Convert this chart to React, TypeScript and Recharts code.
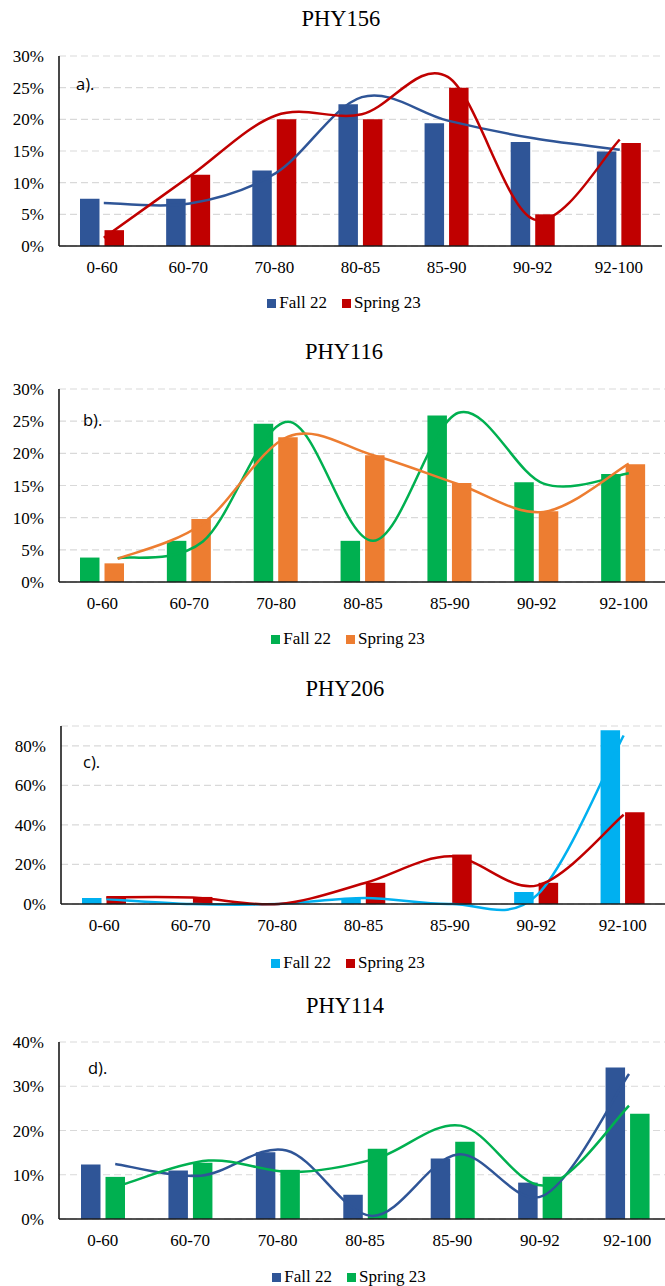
import { ComposedChart, Bar, Line, XAxis, YAxis, CartesianGrid } from 'recharts';

// grade bands shared by all four courses
const categories = ['0-60', '60-70', '70-80', '80-85', '85-90', '90-92', '92-100'];
const seriesNames = ['Fall 22', 'Spring 23'];

// PHY156 (% of students)
const phy156Fall = [7.46, 7.46, 11.94, 22.39, 19.4, 16.42, 14.93];
const phy156Spring = [2.5, 11.25, 20, 20, 25, 5, 16.25];
const phy156FallTrend = [6.8, 6.7, 11.5, 23.5, 19.8, 17.0, 15.2];
const phy156SpringTrend = [1.3, 11.0, 20.6, 20.8, 26.7, 4.2, 16.8];

// PHY116
const phy116Fall = [3.8, 6.4, 24.6, 6.4, 25.9, 15.5, 16.8];
const phy116Spring = [2.9, 9.8, 22.5, 19.7, 15.4, 11.0, 18.3];
const phy116FallTrend = [3.7, 6.3, 24.9, 6.4, 26.3, 15.3, 16.9];
const phy116SpringTrend = [3.6, 9.1, 22.6, 19.7, 15.2, 10.9, 18.4];

// PHY206
const phy206Fall = [3.03, 0, 0, 3.03, 0, 6.06, 87.88];
const phy206Spring = [3.57, 3.57, 0, 10.71, 25, 10.71, 46.43];
const phy206FallTrend = [2.5, 0, 0, 3.0, 0, 4.7, 85.2];
const phy206SpringTrend = [3.4, 3.3, 0, 10.6, 24.1, 9.4, 45.1];

// PHY114
const phy114Fall = [12.33, 10.96, 15.07, 5.48, 13.7, 8.22, 34.25];
const phy114Spring = [9.52, 12.7, 11.11, 15.87, 17.46, 9.52, 23.81];
const phy114FallTrend = [12.45, 9.8, 15.5, 0.7, 14.6, 5.3, 32.75];
const phy114SpringTrend = [7.9, 13.2, 10.6, 13.7, 21.1, 7.6, 25.6];

const ticks30 = [0, 5, 10, 15, 20, 25, 30];
const ticks90 = [0, 20, 40, 60, 80];
const ticks40 = [0, 10, 20, 30, 40];

const SERIF = "'Liberation Serif', 'Times New Roman', serif";
const SANS = "'Open Sans', 'Noto Sans', sans-serif";
const BORDER = '#1a1a1a';
const TOP_PAD = 14;

// Excel-like smoothed line (Catmull-Rom through the points)
const excelSmooth = (context: any) => {
  let pts: number[][] = [];
  return {
    areaStart() {},
    areaEnd() {},
    lineStart() {
      pts = [];
    },
    point(x: number, y: number) {
      pts.push([x, y]);
    },
    lineEnd() {
      if (!pts.length) return;
      context.moveTo(pts[0][0], pts[0][1]);
      for (let i = 0; i < pts.length - 1; i++) {
        const p0 = pts[i - 1] || pts[i];
        const p1 = pts[i];
        const p2 = pts[i + 1];
        const p3 = pts[i + 2] || pts[i + 1];
        context.bezierCurveTo(
          p1[0] + (p2[0] - p0[0]) / 6,
          p1[1] + (p2[1] - p0[1]) / 6,
          p2[0] - (p3[0] - p1[0]) / 6,
          p2[1] - (p3[1] - p1[1]) / 6,
          p2[0],
          p2[1]
        );
      }
    },
  };
};

// where the hand-drawn trend starts/ends, in category units (0 = first band centre)
const spanDomain = (s: number, e: number) => {
  const k = (e - s) / 6;
  return [(-0.5 - s) / k, (6.5 - s) / k];
};

const panels = [
  {
    title: 'PHY156', tag: 'a).',
    fall: phy156Fall, spring: phy156Spring, fallTrend: phy156FallTrend, springTrend: phy156SpringTrend,
    colors: ['#2F5597', '#C00000'],
    yMax: 30, ticks: ticks30,
    plot: { left: 59, right: 662, top: 56, bottom: 246 },
    titleX: 341, titleY: 19, legendX: 344, legendY: 303, tagX: 76, tagY: 84,
    fallSpan: [0.02, 6.01], springSpan: [0.02, 6.01],
  },
  {
    title: 'PHY116', tag: 'b).',
    fall: phy116Fall, spring: phy116Spring, fallTrend: phy116FallTrend, springTrend: phy116SpringTrend,
    colors: ['#00B050', '#ED7D31'],
    yMax: 30, ticks: ticks30,
    plot: { left: 59, right: 667, top: 389, bottom: 582 },
    titleX: 344, titleY: 352, legendX: 348, legendY: 639, tagX: 83, tagY: 420,
    fallSpan: [0.176, 6.06], springSpan: [0.176, 6.06],
  },
  {
    title: 'PHY206', tag: 'c).',
    fall: phy206Fall, spring: phy206Spring, fallTrend: phy206FallTrend, springTrend: phy206SpringTrend,
    colors: ['#00B0F0', '#C00000'],
    yMax: 90, ticks: ticks90,
    plot: { left: 61, right: 666, top: 726, bottom: 904 },
    titleX: 345, titleY: 689, legendX: 348, legendY: 963, tagX: 83, tagY: 762,
    fallSpan: [0.024, 6.01], springSpan: [0.024, 6.01],
  },
  {
    title: 'PHY114', tag: 'd).',
    fall: phy114Fall, spring: phy114Spring, fallTrend: phy114FallTrend, springTrend: phy114SpringTrend,
    colors: ['#2F5597', '#00B050'],
    yMax: 40, ticks: ticks40,
    plot: { left: 59, right: 671, top: 1042, bottom: 1219 },
    titleX: 345, titleY: 1006, legendX: 349, legendY: 1277, tagX: 88, tagY: 1068,
    fallSpan: [0.143, 6.02], springSpan: [0.246, 6.02],
  },
];

const Panel = ({ p }: { p: any }) => {
  const rows = categories.map((cat, i) => ({
    cat,
    i,
    fall: p.fall[i],
    spring: p.spring[i],
    fallTrend: p.fallTrend[i],
    springTrend: p.springTrend[i],
  }));
  const { left, right, top, bottom } = p.plot;
  const width = right + 5;
  const height = TOP_PAD + (bottom - top) + 30;
  const tickStyle = { fontSize: 17, fill: '#000', fontFamily: SERIF, style: { fontFamily: SERIF } };

  return (
    <>
      <div
        style={{
          position: 'absolute', left: p.titleX - 150, width: 300, top: p.titleY - 13,
          lineHeight: '26px', textAlign: 'center', fontFamily: SERIF, fontSize: 22.5, color: '#000',
        }}
      >
        {p.title}
      </div>
      <div style={{ position: 'absolute', left: 0, top: top - TOP_PAD, fontFamily: SERIF }}>
        <ComposedChart
          width={width}
          height={height}
          data={rows}
          margin={{ top: TOP_PAD, right: 5, bottom: 0, left: 0 }}
          barSize={19.5}
          barGap={5}
          style={{ fontFamily: SERIF }}
        >
          <CartesianGrid vertical={false} stroke="#d9d9d9" strokeWidth={1.2} strokeDasharray="7 4" />
          <XAxis
            dataKey="cat"
            interval={0}
            height={30}
            tick={tickStyle}
            tickLine={false}
            tickSize={0}
            tickMargin={14.5}
            axisLine={{ stroke: BORDER, strokeWidth: 1.6 }}
          />
          <XAxis xAxisId="top" dataKey="cat" orientation="top" height={0} tick={false} tickLine={false}
            axisLine={{ stroke: BORDER, strokeWidth: 1.4 }} />
          <XAxis xAxisId="tf" type="number" dataKey="i" hide domain={spanDomain(p.fallSpan[0], p.fallSpan[1])} />
          <XAxis xAxisId="ts" type="number" dataKey="i" hide domain={spanDomain(p.springSpan[0], p.springSpan[1])} />
          <YAxis
            width={left}
            domain={[0, p.yMax]}
            ticks={p.ticks}
            interval={0}
            tickFormatter={(v: number) => `${v}%`}
            tick={tickStyle}
            tickLine={false}
            tickSize={0}
            tickMargin={15}
            axisLine={{ stroke: BORDER, strokeWidth: 1.6 }}
          />
          <YAxis yAxisId="right" orientation="right" width={0} domain={[0, p.yMax]} tick={false} tickLine={false}
            axisLine={{ stroke: BORDER, strokeWidth: 1.4 }} />
          <Bar dataKey="fall" name={seriesNames[0]} fill={p.colors[0]} isAnimationActive={false} />
          <Bar dataKey="spring" name={seriesNames[1]} fill={p.colors[1]} isAnimationActive={false} />
          <Line
            xAxisId="tf"
            dataKey="fallTrend"
            type={excelSmooth as any}
            stroke={p.colors[0]}
            strokeWidth={2.5}
            dot={false}
            activeDot={false}
            legendType="none"
            isAnimationActive={false}
          />
          <Line
            xAxisId="ts"
            dataKey="springTrend"
            type={excelSmooth as any}
            stroke={p.colors[1]}
            strokeWidth={2.5}
            dot={false}
            activeDot={false}
            legendType="none"
            isAnimationActive={false}
          />
        </ComposedChart>
      </div>
      <div
        style={{
          position: 'absolute', left: p.tagX, top: p.tagY - 12, lineHeight: '24px',
          fontFamily: SANS, fontSize: 16.5, color: '#000',
        }}
      >
        {p.tag}
      </div>
      <div
        style={{
          position: 'absolute', left: p.legendX - 150, width: 300, top: p.legendY - 11, height: 22,
          display: 'flex', justifyContent: 'center', alignItems: 'center',
          fontFamily: SERIF, fontSize: 17, color: '#000', lineHeight: '22px',
        }}
      >
        {seriesNames.map((name, k) => (
          <div key={name} style={{ display: 'flex', alignItems: 'center', marginLeft: k ? 15 : 0 }}>
            <span style={{ display: 'inline-block', width: 9, height: 9, background: p.colors[k], marginRight: 3 }} />
            <span>{name}</span>
          </div>
        ))}
      </div>
    </>
  );
};

export default function App() {
  return (
    <div
      style={{
        position: 'absolute', left: 0, top: 0, width: 665, height: 1286,
        overflow: 'hidden', background: '#fff', fontFamily: SERIF,
      }}
    >
      {panels.map((p) => (
        <Panel key={p.title} p={p} />
      ))}
    </div>
  );
}
